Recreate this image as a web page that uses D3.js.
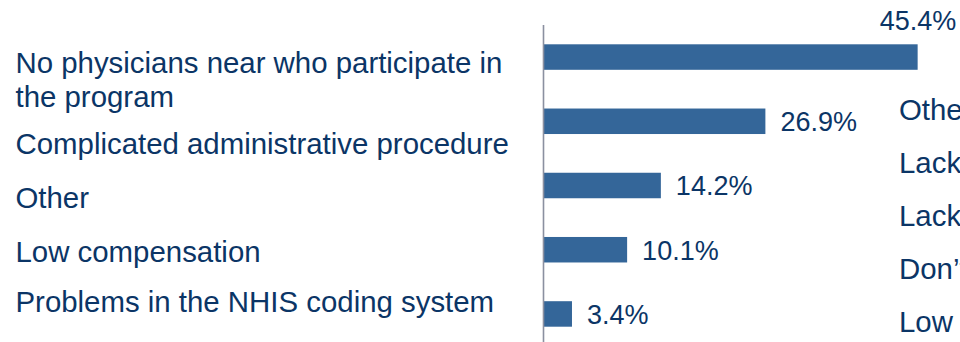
<!DOCTYPE html>
<html>
<head>
<meta charset="utf-8">
<script src="https://cdn.jsdelivr.net/npm/d3@7"></script>
<style>
  html, body { margin: 0; padding: 0; background: #ffffff; overflow: hidden; }
  svg { display: block; }
  text { font-family: "Liberation Sans", Arial, sans-serif; }
</style>
</head>
<body>
<svg id="chart" width="960" height="342"></svg>
<script>
// Reasons given for not participating in the program (share of respondents, %)
const categories = [
  ["No physicians near who participate in", "the program"],
  ["Complicated administrative procedure"],
  ["Other"],
  ["Low compensation"],
  ["Problems in the NHIS coding system"]
];
const values = [45.4, 26.9, 14.2, 10.1, 3.4];
const valueLabels = ["45.4%", "26.9%", "14.2%", "10.1%", "3.4%"];
// Category labels of the neighbouring panel, running off the right edge
const sideLabels = ["Other", "Lack", "Lack", "Don\u2019t", "Low"];

const W = 960, H = 342;
const textColor = "#0b3566";
const barColor = "#346699";
const axisColor = "#8b90a0";

const svg = d3.select("#chart");

const x = d3.scaleLinear().domain([0, 50]).range([544, 955.5]);
const y = d3.scaleBand()
  .domain(d3.range(values.length))
  .range([44.3, 326.7])
  .paddingInner(0.603)
  .paddingOuter(0);

// Bars
svg.append("g").selectAll("rect")
  .data(values)
  .join("rect")
  .attr("x", x(0))
  .attr("y", (d, i) => y(i))
  .attr("width", d => x(d) - x(0))
  .attr("height", y.bandwidth())
  .attr("fill", barColor);

// Vertical baseline
svg.append("line")
  .attr("x1", x(0) - 0.5).attr("x2", x(0) - 0.5)
  .attr("y1", 25).attr("y2", H)
  .attr("stroke", axisColor)
  .attr("stroke-width", 1.6);

// Value labels: the longest bar carries its label above its end
svg.append("g").selectAll("text")
  .data(values)
  .join("text")
  .attr("x", (d, i) => i === 0 ? x(d) - 38 : x(d) + 15)
  .attr("y", (d, i) => i === 0 ? y(i) - 14.3 : y(i) + y.bandwidth() / 2 + 9.8)
  .attr("font-size", 27)
  .attr("fill", textColor)
  .text((d, i) => valueLabels[i]);

// Category labels in a text block on the left
const labelBaselines = [72.7, 154, 208.3, 261.7, 312.3];
const lineHeight = 34.6;
const labelG = svg.append("g");
categories.forEach((lines, i) => {
  const t = labelG.append("text")
    .attr("x", 15.5)
    .attr("y", labelBaselines[i])
    .attr("font-size", 29.4)
    .attr("fill", textColor);
  lines.forEach((ln, j) => {
    t.append("tspan")
      .attr("x", 15.5)
      .attr("y", labelBaselines[i] + j * lineHeight)
      .text(ln);
  });
});

// Neighbouring panel labels
svg.append("g").selectAll("text")
  .data(sideLabels)
  .join("text")
  .attr("x", 899)
  .attr("y", (d, i) => 119.5 + i * 53)
  .attr("font-size", 29.4)
  .attr("fill", textColor)
  .text(d => d);
</script>
</body>
</html>
